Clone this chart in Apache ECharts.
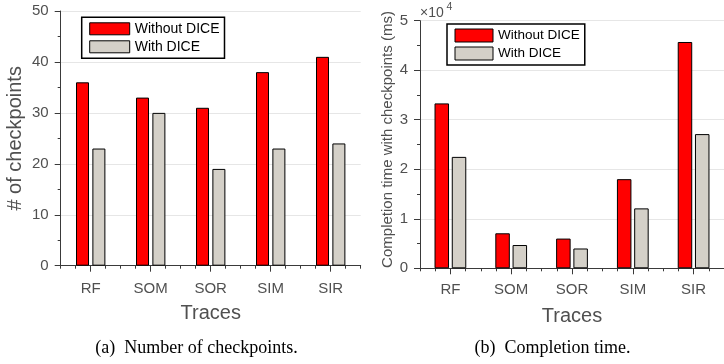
<!DOCTYPE html>
<html><head><meta charset="utf-8">
<script src="https://cdn.jsdelivr.net/npm/echarts@6/dist/echarts.min.js"></script>
<style>html,body{margin:0;padding:0;background:#fff}#c{width:724px;height:364px}</style>
</head><body><div id="c"></div>
<script>
const categories = ['RF', 'SOM', 'SOR', 'SIM', 'SIR'];
const checkpointsWithout = [36, 33, 31, 38, 41];
const checkpointsWith = [23, 30, 19, 23, 24];
const timeWithout = [33300, 7070, 6000, 18000, 45700];
const timeWith = [22500, 4700, 4000, 12100, 27100];
const timeTickLabels = ['0', '1', '2', '3', '4', '5'];
const seriesNames = ['Without DICE', 'With DICE'];

const FONT = 'Liberation Sans, Arial, sans-serif';
const AXIS = '#3a3a3a';
const TXT = '#505050';
const RED = '#ff0000';
const GRAY = '#d4d0c8';

function catAxis(gi, gap) {
  return {
    type: 'category', gridIndex: gi, data: categories, position: 'bottom',
    axisLine: { show: true, lineStyle: { color: AXIS, width: 1 } },
    axisTick: { show: true, alignWithLabel: true, length: 6, lineStyle: { color: AXIS } },
    axisLabel: { color: TXT, fontSize: 15, fontFamily: FONT, margin: gap },
    splitLine: { show: false },
    name: 'Traces', nameLocation: 'middle', nameGap: 38,
    nameTextStyle: { fontSize: 20, color: TXT, fontFamily: FONT }
  };
}
function minorAxis(gi) {
  return {
    type: 'value', gridIndex: gi, position: 'bottom', min: 0, max: 20, interval: 1,
    axisLine: { show: false },
    axisTick: { show: true, length: 3, lineStyle: { color: AXIS } },
    axisLabel: { show: false }, splitLine: { show: false }
  };
}
function valAxis(gi, max, interval, name, nameSize, nameGap, fmt, pad) {
  return {
    type: 'value', gridIndex: gi, min: 0, max: max, interval: interval,
    axisLine: { show: true, lineStyle: { color: AXIS, width: 1 } },
    axisTick: { show: true, length: 6, lineStyle: { color: AXIS } },
    minorTick: { show: true, splitNumber: 2, length: 3, lineStyle: { color: AXIS } },
    splitLine: { show: true, lineStyle: { color: '#e6e6e6', width: 1 } },
    axisLabel: { color: TXT, fontSize: 15, fontFamily: FONT, margin: 12, formatter: fmt },
    name: name, nameLocation: 'middle', nameGap: nameGap,
    nameTextStyle: { fontSize: nameSize, color: TXT, fontFamily: FONT, padding: pad }
  };
}
function bar(name, data, color, xi, yi, w, gap) {
  return {
    type: 'bar', name: name, data: data, xAxisIndex: xi, yAxisIndex: yi,
    barWidth: w, barGap: gap,
    itemStyle: { color: color, borderColor: '#000', borderWidth: 1 },
    emphasis: { disabled: true }, animation: false
  };
}
function legend(left, top, iw, ih, fs) {
  return {
    left: left, top: top, orient: 'vertical', data: seriesNames,
    icon: 'rect', itemWidth: iw, itemHeight: ih, itemGap: 4,
    padding: [4.5, 5, 4.5, 7.5], borderColor: '#000', borderWidth: 1.5,
    backgroundColor: '#fff', selectedMode: false,
    itemStyle: { borderColor: '#000', borderWidth: 1 },
    textStyle: { fontSize: fs, color: '#000', fontFamily: FONT }
  };
}

const chart = echarts.init(document.getElementById('c'), null, { renderer: 'canvas' });
chart.setOption({
  animation: false,
  backgroundColor: '#fff',
  grid: [
    { left: 60.7, top: 11, right: 363.3, bottom: 98.3 },
    { left: 420, top: 20.7, right: -7.5, bottom: 95.7 }
  ],
  xAxis: [catAxis(0, 16), minorAxis(0), catAxis(1, 14), minorAxis(1)],
  yAxis: [
    valAxis(0, 50, 10, '# of checkpoints', 20, 35, undefined, 0),
    valAxis(1, 50000, 10000, 'Completion time with checkpoints (ms)', 15, 25,
      v => timeTickLabels[Math.round(v / 10000)] || '', [0, 0, 0, 10])
  ],
  legend: [legend(81.7, 17.3, 40, 12, 14), legend(447, 24, 38, 13, 13.5)],
  series: [
    bar(seriesNames[0], checkpointsWithout, RED, 0, 0, 13, '26%'),
    bar(seriesNames[1], checkpointsWith, GRAY, 0, 0, 13, '26%'),
    bar(seriesNames[0], timeWithout, RED, 2, 1, 14.5, '19%'),
    bar(seriesNames[1], timeWith, GRAY, 2, 1, 14.5, '19%')
  ],
  graphic: [
    { type: 'text', left: 420, top: 6, style: { text: '×10', fontSize: 14, fill: TXT, fontFamily: FONT } },
    { type: 'text', left: 446.5, top: 1.5, style: { text: '4', fontSize: 10.5, fill: TXT, fontFamily: FONT } },
    { type: 'text', x: 196.5, y: 348, style: { text: '(a)  Number of checkpoints.', fontSize: 18, fill: '#000', fontFamily: 'Liberation Serif, serif', align: 'center', verticalAlign: 'middle' } },
    { type: 'text', x: 552.5, y: 348, style: { text: '(b)  Completion time.', fontSize: 18, fill: '#000', fontFamily: 'Liberation Serif, serif', align: 'center', verticalAlign: 'middle' } }
  ]
});
</script>
</body></html>
